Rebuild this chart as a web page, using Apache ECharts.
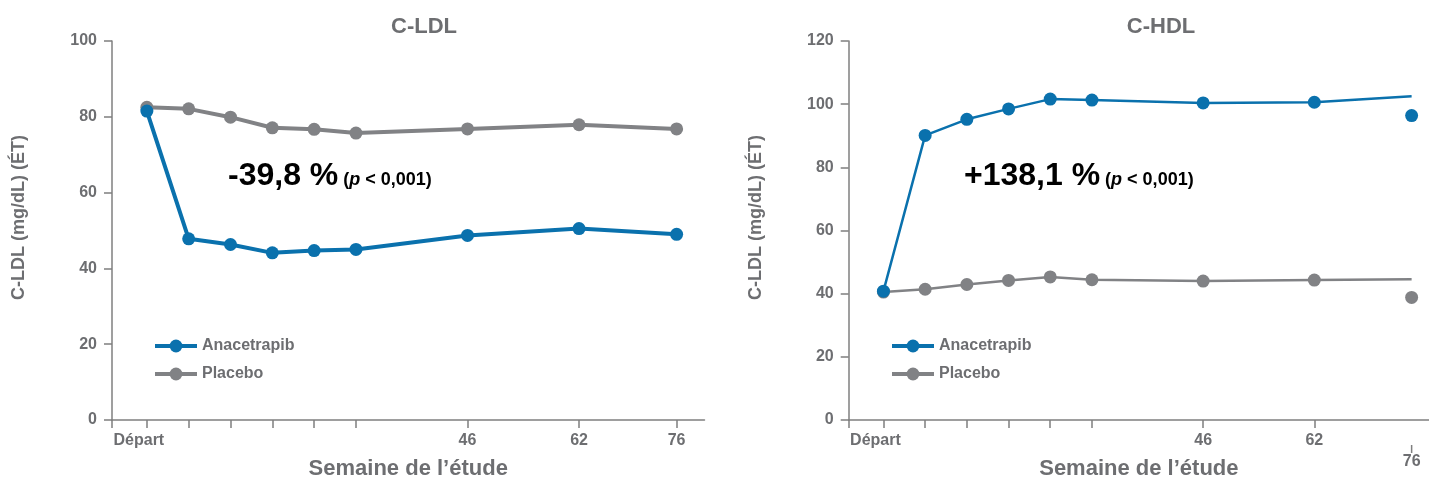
<!DOCTYPE html>
<html><head><meta charset="utf-8">
<script src="https://cdn.jsdelivr.net/npm/echarts@6/dist/echarts.min.js"></script>
<style>html,body{margin:0;padding:0;background:#fff}#c{width:1429px;height:478px}</style>
</head><body><div id="c"></div>
<script>
// ---- data ----
const weeks = [0, 6, 12, 18, 24, 30, 46, 62, 76];
const weekTicks = [-5, 0, 6, 12, 18, 24, 30, 46, 62, 76];
const weekLabels = [0, 46, 62, 76];
const ldlAnacetrapib = [81.5, 47.8, 46.3, 44.1, 44.7, 45.0, 48.7, 50.5, 49.0];
const ldlPlacebo = [82.5, 82.1, 79.9, 77.1, 76.7, 75.7, 76.8, 77.9, 76.8];
const hdlAnacetrapib = [40.8, 90.1, 95.2, 98.5, 101.6, 101.3, 100.4, 100.6, 102.5];
const hdlPlacebo = [40.5, 41.4, 42.9, 44.2, 45.3, 44.4, 44.0, 44.3, 44.6];
const hdlWeek76Anacetrapib = [96.4];
const hdlWeek76Placebo = [38.8];
const seriesNames = ['Anacetrapib', 'Placebo'];
const panelTitles = ['C-LDL', 'C-HDL'];
const yAxisName = 'C-LDL (mg/dL) (ÉT)';
const xAxisName = 'Semaine de l’étude';
const ldlChange = '-39,8 %';
const hdlChange = '+138,1 %';
const pText = '< 0,001)';

// ---- style ----
const FONT = '"Liberation Sans", Arial, sans-serif';
const BLUE = '#0a71ad';
const GRAY = '#818285';
const TXT = '#6d6e71';
const AX = '#7f7f7f';

function pts(vals, hideLast) {
  return weeks.map((w, i) => (hideLast && i === weeks.length - 1)
    ? { value: [w, vals[i]], symbolSize: 0 } : [w, vals[i]]);
}

function xAxis(gi, max, lowLast) {
  return {
    type: 'value', gridIndex: gi, min: -5, max: max,
    axisLine: { show: true, onZero: false, lineStyle: { color: AX, width: 1.5 } },
    axisTick: { show: true, customValues: weekTicks.filter(v => !(lowLast && v === 76)), length: 8, lineStyle: { color: AX, width: 1.5 } },
    axisLabel: {
      customValues: weekLabels, margin: 13, color: TXT, fontFamily: FONT, fontWeight: 'bold', fontSize: 16,
      formatter: v => v === 0 ? '{d|Départ}' : (lowLast && v === 76 ? '{bar| }\n{n|76}' : String(v)),
      rich: {
        d: { padding: [0, 16, 0, 0], color: TXT, fontFamily: FONT, fontWeight: 'bold', fontSize: 16 },
        bar: { width: 1.5, height: 8, backgroundColor: AX, lineHeight: 20, verticalAlign: 'bottom' },
        n: { color: TXT, fontFamily: FONT, fontWeight: 'bold', fontSize: 16, lineHeight: 18 }
      }
    },
    splitLine: { show: false },
    name: xAxisName, nameLocation: 'middle', nameGap: 38, nameMoveOverlap: false,
    nameTextStyle: { color: TXT, fontFamily: FONT, fontWeight: 'bold', fontSize: 22 }
  };
}
function yAxis(gi, max) {
  return {
    type: 'value', gridIndex: gi, min: 0, max: max, interval: 20,
    axisLine: { show: true, onZero: false, lineStyle: { color: AX, width: 1.5 } },
    axisTick: { show: true, length: 8, lineStyle: { color: AX, width: 1.5 } },
    axisLabel: { margin: 15, color: TXT, fontFamily: FONT, fontWeight: 'bold', fontSize: 16 },
    splitLine: { show: false },
    name: yAxisName, nameLocation: 'middle', nameGap: 84, nameMoveOverlap: false,
    nameTextStyle: { color: TXT, fontFamily: FONT, fontWeight: 'bold', fontSize: 18, padding: [0, 0, 0, 26] }
  };
}
function legend(left) {
  return {
    data: seriesNames, orient: 'vertical', left: left, top: 338, padding: 0,
    itemWidth: 42, itemHeight: 16, itemGap: 12,
    lineStyle: { width: 4 },
    textStyle: { color: TXT, fontFamily: FONT, fontWeight: 'bold', fontSize: 16, lineHeight: 16 }
  };
}
function annot(left, big) {
  return {
    left: left, top: 156, padding: 0,
    text: '{b|' + big + '} {s|(}{i|p}{s| ' + pText + '}',
    textStyle: {
      rich: {
        b: { fontFamily: FONT, fontWeight: 'bold', fontSize: 32, color: '#000', verticalAlign: 'bottom', lineHeight: 36 },
        s: { fontFamily: FONT, fontWeight: 'bold', fontSize: 18, color: '#000', verticalAlign: 'bottom', lineHeight: 36, padding: [0, 0, 3, 0] },
        i: { fontFamily: FONT, fontWeight: 'bold', fontStyle: 'italic', fontSize: 18, color: '#000', verticalAlign: 'bottom', lineHeight: 36, padding: [0, 0, 3, 0] }
      }
    }
  };
}
const titleStyle = { color: TXT, fontFamily: FONT, fontWeight: 'bold', fontSize: 22 };

const option = {
  animation: false,
  backgroundColor: '#fff',
  title: [
    { text: panelTitles[0], left: 424, textAlign: 'center', top: 16, padding: 0, textStyle: titleStyle },
    { text: panelTitles[1], left: 1161, textAlign: 'center', top: 16, padding: 0, textStyle: titleStyle },
    annot(228, ldlChange),
    annot(964, hdlChange)
  ],
  legend: [legend(153), legend(890)],
  grid: [
    { left: 112, top: 41, width: 592.5, height: 379, outerBoundsMode: 'none', containLabel: false },
    { left: 848.7, top: 41, width: 580.3, height: 379, outerBoundsMode: 'none', containLabel: false }
  ],
  xAxis: [xAxis(0, 80, false), xAxis(1, 78.5, true)],
  yAxis: [yAxis(0, 100), yAxis(1, 120)],
  series: [
    { name: seriesNames[1], type: 'line', xAxisIndex: 0, yAxisIndex: 0, data: pts(ldlPlacebo),
      symbol: 'circle', symbolSize: 13, color: GRAY, lineStyle: { width: 4, color: GRAY }, itemStyle: { color: GRAY } },
    { name: seriesNames[0], type: 'line', xAxisIndex: 0, yAxisIndex: 0, data: pts(ldlAnacetrapib),
      symbol: 'circle', symbolSize: 13, color: BLUE, lineStyle: { width: 4, color: BLUE }, itemStyle: { color: BLUE } },
    { name: seriesNames[1], type: 'line', xAxisIndex: 1, yAxisIndex: 1, data: pts(hdlPlacebo, true),
      symbol: 'circle', symbolSize: 13, color: GRAY, lineStyle: { width: 2.5, color: GRAY }, itemStyle: { color: GRAY } },
    { name: seriesNames[0], type: 'line', xAxisIndex: 1, yAxisIndex: 1, data: pts(hdlAnacetrapib, true),
      symbol: 'circle', symbolSize: 13, color: BLUE, lineStyle: { width: 2.5, color: BLUE }, itemStyle: { color: BLUE } },
    { name: 'Placebo S76', type: 'scatter', xAxisIndex: 1, yAxisIndex: 1,
      data: hdlWeek76Placebo.map(v => [76, v]), symbol: 'circle', symbolSize: 13, itemStyle: { color: GRAY, opacity: 1 } },
    { name: 'Anacetrapib S76', type: 'scatter', xAxisIndex: 1, yAxisIndex: 1,
      data: hdlWeek76Anacetrapib.map(v => [76, v]), symbol: 'circle', symbolSize: 13, itemStyle: { color: BLUE, opacity: 1 } }
  ]
};
echarts.init(document.getElementById('c'), null, { renderer: 'canvas' }).setOption(option);
</script>
</body></html>
